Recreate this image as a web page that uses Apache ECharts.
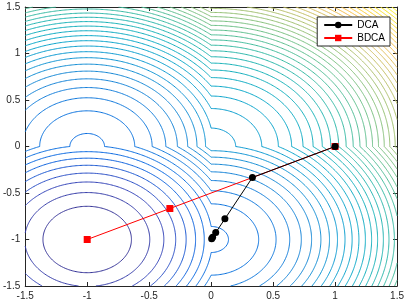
<!DOCTYPE html>
<html>
<head>
<meta charset="utf-8">
<script src="https://cdn.jsdelivr.net/npm/echarts@6/dist/echarts.min.js"></script>
<style>
html,body{margin:0;padding:0;background:#fff;}
#c{width:407px;height:303px;}
</style>
</head>
<body>
<div id="c"></div>
<script>
// ---- data ----
// axis ticks
const xTicks = [-1.5, -1, -0.5, 0, 0.5, 1, 1.5];
const yTicks = [-1.5, -1, -0.5, 0, 0.5, 1, 1.5];

// DCA iterates
const dcaX = [1, 0.333, 0.111, 0.037, 0.012, 0.004];
const dcaY = [0, -0.333, -0.778, -0.926, -0.975, -0.992];

// BDCA iterates
const bdcaX = [1, -0.333, -1];
const bdcaY = [0, -0.667, -1];

// contoured function: phi(x,y) = x^2 + y^2 + x + y - |x| - |y|
const phiQuad = [1, 1];      // coefficients of x^2, y^2
const phiLin = [1, 1];       // coefficients of x, y
const phiAbs = [-1, -1];     // coefficients of |x|, |y|
const contourCount = 50;     // number of contour levels (MATLAB contour(...,50))
const gridStep = 0.01;

// parula colormap stops
const parula = [
 [0.2081,0.1663,0.5292],[0.1959,0.2645,0.7279],[0.0117,0.3875,0.8820],[0.0498,0.4586,0.8641],
 [0.0793,0.5200,0.8312],[0.0343,0.5966,0.8199],[0.0228,0.6535,0.7768],[0.0843,0.6928,0.7062],
 [0.2178,0.7250,0.6193],[0.3953,0.7459,0.5244],[0.5709,0.7485,0.4494],[0.7184,0.7411,0.3905],
 [0.8507,0.7299,0.3360],[0.9739,0.7314,0.2666],[0.9880,0.8066,0.1794],[0.9589,0.8949,0.1132],
 [0.9763,0.9831,0.0538]
];

// ---- build the surface and its contour lines ----
function phi(x, y) {
  return phiQuad[0]*x*x + phiQuad[1]*y*y + phiLin[0]*x + phiLin[1]*y + phiAbs[0]*Math.abs(x) + phiAbs[1]*Math.abs(y);
}
const xmin = xTicks[0], xmax = xTicks[xTicks.length-1];
const ymin = yTicks[0], ymax = yTicks[yTicks.length-1];
const nx = Math.round((xmax - xmin)/gridStep) + 1;
const ny = Math.round((ymax - ymin)/gridStep) + 1;
const xs = [], ys = [];
for (let i = 0; i < nx; i++) xs.push(xmin + (xmax - xmin) * i / (nx - 1));
for (let j = 0; j < ny; j++) ys.push(ymin + (ymax - ymin) * j / (ny - 1));
const Z = new Float64Array(nx*ny);
let zmin = Infinity, zmax = -Infinity;
for (let j = 0; j < ny; j++) for (let i = 0; i < nx; i++) {
  const v = phi(xs[i], ys[j]);
  Z[j*nx+i] = v;
  if (v < zmin) zmin = v;
  if (v > zmax) zmax = v;
}
const levels = [];
for (let k = 1; k <= contourCount; k++) levels.push(zmin + (zmax - zmin) * k / (contourCount + 1));

function colorAt(t) {
  t = Math.max(0, Math.min(1, t));
  const p = t * (parula.length - 1);
  const i = Math.min(parula.length - 2, Math.floor(p));
  const f = p - i;
  const c = parula[i].map((v, k) => v + (parula[i+1][k] - v) * f);
  return 'rgb(' + c.map(v => Math.round(v*255)).join(',') + ')';
}

const HE = (nx-1)*ny;
function hId(i, j) { return j*(nx-1) + i; }
function vId(i, j) { return HE + j*nx + i; }

function contour(L) {
  const pts = new Map();
  const adj = new Map();
  function edgePoint(id) {
    if (pts.has(id)) return;
    let x, y;
    if (id < HE) {
      const j = Math.floor(id/(nx-1)), i = id - j*(nx-1);
      const z0 = Z[j*nx+i], z1 = Z[j*nx+i+1];
      const t = (L - z0)/(z1 - z0);
      x = xs[i] + t*(xs[i+1]-xs[i]); y = ys[j];
    } else {
      const k = id - HE; const j = Math.floor(k/nx), i = k - j*nx;
      const z0 = Z[j*nx+i], z1 = Z[(j+1)*nx+i];
      const t = (L - z0)/(z1 - z0);
      x = xs[i]; y = ys[j] + t*(ys[j+1]-ys[j]);
    }
    pts.set(id, [x, y]);
  }
  function link(a, b) {
    edgePoint(a); edgePoint(b);
    if (!adj.has(a)) adj.set(a, []);
    if (!adj.has(b)) adj.set(b, []);
    adj.get(a).push(b); adj.get(b).push(a);
  }
  for (let j = 0; j < ny-1; j++) for (let i = 0; i < nx-1; i++) {
    const za = Z[j*nx+i], zb = Z[j*nx+i+1], zc = Z[(j+1)*nx+i+1], zd = Z[(j+1)*nx+i];
    const A = za >= L, B = zb >= L, C = zc >= L, D = zd >= L;
    const e = [];
    const bottom = hId(i,j), right = vId(i+1,j), top = hId(i,j+1), left = vId(i,j);
    if (A !== B) e.push(bottom);
    if (B !== C) e.push(right);
    if (C !== D) e.push(top);
    if (D !== A) e.push(left);
    if (e.length === 2) link(e[0], e[1]);
    else if (e.length === 4) {
      const cen = (za+zb+zc+zd)/4 >= L;
      if (A === cen) { link(bottom, right); link(top, left); }
      else { link(bottom, left); link(right, top); }
    }
  }
  const used = new Set();
  const lines = [];
  function walk(start) {
    const line = [pts.get(start)];
    used.add(start);
    let cur = start;
    while (true) {
      const nb = adj.get(cur).find(n => !used.has(n));
      if (nb === undefined) break;
      used.add(nb); line.push(pts.get(nb)); cur = nb;
    }
    if (adj.get(cur).includes(start) && line.length > 2) line.push(pts.get(start));
    return line;
  }
  for (const [id, nb] of adj) if (nb.length === 1 && !used.has(id)) lines.push(walk(id));
  for (const [id] of adj) if (!used.has(id)) lines.push(walk(id));
  return lines;
}

const contourData = [];
levels.forEach(L => {
  const col = colorAt((L - zmin)/(zmax - zmin));
  contour(L).forEach(line => {
    if (line.length > 1) contourData.push({ coords: line, lineStyle: { color: col } });
  });
});

// ---- chart ----
const axisColor = '#262626';
const font = 'Liberation Sans, Arial, Helvetica, sans-serif';
function xAxisDef(pos, labels) {
  return {
    type: 'value', position: pos, min: xTicks[0], max: xTicks[xTicks.length-1], interval: xTicks[1]-xTicks[0],
    axisLine: { show: true, onZero: false, lineStyle: { color: axisColor, width: 1 } },
    axisTick: { show: true, inside: true, length: 4, lineStyle: { color: axisColor } },
    axisLabel: { show: labels, margin: 5, fontSize: 10, color: axisColor, fontFamily: font },
    splitLine: { show: false }
  };
}
function yAxisDef(pos, labels) {
  return {
    type: 'value', position: pos, min: yTicks[0], max: yTicks[yTicks.length-1], interval: yTicks[1]-yTicks[0],
    axisLine: { show: true, onZero: false, lineStyle: { color: axisColor, width: 1 } },
    axisTick: { show: true, inside: true, length: 4, lineStyle: { color: axisColor } },
    axisLabel: { show: labels, margin: 5, fontSize: 10, color: axisColor, fontFamily: font },
    splitLine: { show: false }
  };
}

const chart = echarts.init(document.getElementById('c'), null, { renderer: 'canvas' });
chart.setOption({
  animation: false,
  backgroundColor: '#fff',
  grid: { left: 23, right: 8, top: 7, bottom: 17, containLabel: false },
  xAxis: [xAxisDef('bottom', true), xAxisDef('top', false)],
  yAxis: [yAxisDef('left', true), yAxisDef('right', false)],
  legend: {
    data: ['DCA', 'BDCA'],
    orient: 'vertical', right: 17, top: 17,
    backgroundColor: '#fff', borderColor: axisColor, borderWidth: 1,
    padding: [3, 5, 3, 6], itemWidth: 28, itemHeight: 8, itemGap: 3,
    textStyle: { fontSize: 10, color: '#000', fontFamily: font }
  },
  series: [
    {
      type: 'lines', coordinateSystem: 'cartesian2d', polyline: true, silent: true,
      xAxisIndex: 0, yAxisIndex: 0,
      lineStyle: { width: 1, opacity: 1 }, data: contourData, z: 1
    },
    {
      name: 'BDCA', type: 'line', xAxisIndex: 0, yAxisIndex: 0,
      data: bdcaX.map((x, i) => [x, bdcaY[i]]),
      symbol: 'rect', symbolSize: 7, showSymbol: true, showAllSymbol: true,
      itemStyle: { color: '#ff0000' }, lineStyle: { color: '#ff0000', width: 1 }, z: 3
    },
    {
      name: 'DCA', type: 'line', xAxisIndex: 0, yAxisIndex: 0,
      data: dcaX.map((x, i) => [x, dcaY[i]]),
      symbol: 'circle', symbolSize: 7, showSymbol: true, showAllSymbol: true,
      itemStyle: { color: '#000000' }, lineStyle: { color: '#000000', width: 1 }, z: 4
    }
  ]
});
</script>
</body>
</html>
